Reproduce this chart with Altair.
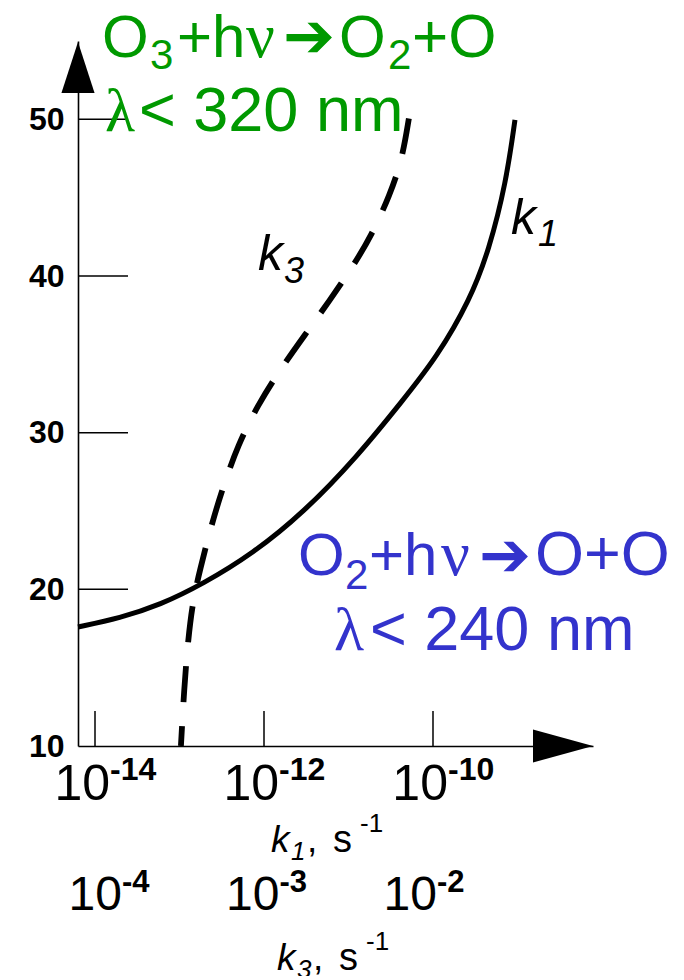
import altair as alt
import pandas as pd

# ---------------- data ----------------
# solid curve k1 : log10(k1 / s^-1) vs altitude (km)
k1_exp = [-14.201, -13.704, -13.231, -12.722, -12.130, -11.538, -10.899,
          -10.355, -9.953, -9.562, -9.337, -9.136, -9.030]
k1_alt = [17.60, 18.17, 19.00, 20.34, 22.29, 24.87, 28.45,
          32.08, 34.83, 38.47, 41.66, 45.94, 49.96]

# dashed curve k3 : log10(k3 / s^-1) vs altitude (km)
k3_exp = [-3.537, -3.517, -3.492, -3.460, -3.416, -3.352, -3.276, -3.175,
          -3.048, -2.908, -2.749, -2.590, -2.451, -2.324, -2.210, -2.133, -2.089]
k3_alt = [10.0, 13.58, 16.77, 19.32, 21.24, 23.79, 26.35, 29.22,
          31.78, 34.01, 36.25, 38.48, 40.52, 42.63, 45.19, 47.42, 50.10]

alt_ticks = [10, 20, 30, 40, 50]
k1_tick_exp = [-14, -12, -10]
k3_tick_exp = [-4, -3, -2]

# ---------------- layout constants ----------------
OX, OY = 78, 41          # page position of plot origin
W, H = 515, 705
FONT = "Liberation Sans"
SERIF = "Liberation Serif"
ARROWF = "DejaVu Sans"
GREEN = "#009900"
BLUE = "#3333cc"

df_k1 = pd.DataFrame({"k1": [10 ** e for e in k1_exp], "alt": k1_alt})
df_k3 = pd.DataFrame({"k3": [10 ** e for e in k3_exp], "alt": k3_alt})
df_k1t = pd.DataFrame({"k": [10 ** e for e in k1_tick_exp],
                       "sup": [str(e) for e in k1_tick_exp]})
df_k3t = pd.DataFrame({"k": [10 ** e for e in k3_tick_exp],
                       "sup": [str(e) for e in k3_tick_exp]})
df_yt = pd.DataFrame({"a": alt_ticks[1:]})
one = pd.DataFrame({"d": [0]})

X1 = alt.Scale(type="log", domain=[10 ** -14.2012, 10 ** -8.1065], nice=False)
X3 = alt.Scale(type="log", domain=[10 ** -4.1905, 10 ** -0.9206], nice=False)
YS = alt.Scale(domain=[10, 55], nice=False, zero=False)

x1_axis = alt.Axis(domain=True, domainColor="black", domainWidth=1.6,
                   labels=False, ticks=False, tickSize=0, grid=False, title=None)
y_axis = alt.Axis(values=alt_ticks, domain=True, domainColor="black", domainWidth=1.6,
                  ticks=False, tickSize=0, grid=False, title=None,
                  labelFont=FONT, labelFontSize=32, labelFontWeight="bold",
                  labelColor="black", labelPadding=14)

Y = alt.Y("alt:Q", scale=YS, axis=y_axis)

# ---------------- k1 layer ----------------
k1_line = alt.Chart(df_k1).mark_line(color="black", strokeWidth=5,
                                     interpolate="basis").encode(
    x=alt.X("k1:Q", scale=X1, axis=x1_axis), y=Y)

x_ticks = alt.Chart(df_k1t).mark_rule(color="black", strokeWidth=1.5).encode(
    x=alt.X("k:Q", scale=X1, axis=x1_axis),
    y=alt.value(H), y2=alt.value(H - 35))

y_ticks = alt.Chart(df_yt).mark_rule(color="black", strokeWidth=1.5).encode(
    y=alt.Y("a:Q", scale=YS, axis=y_axis),
    x=alt.value(0), x2=alt.value(50))

k1_ten = alt.Chart(df_k1t).mark_text(text="10", font=FONT, fontSize=50,
                                     align="right", baseline="alphabetic",
                                     dx=15, color="black").encode(
    x=alt.X("k:Q", scale=X1, axis=x1_axis), y=alt.value(800 - OY))
k1_sup = alt.Chart(df_k1t).mark_text(font=FONT, fontSize=32, fontWeight="bold",
                                     align="left", baseline="alphabetic",
                                     dx=15, color="black").encode(
    x=alt.X("k:Q", scale=X1, axis=x1_axis), y=alt.value(780 - OY), text="sup:N")

up_arrow = alt.Chart(one).mark_point(
    shape="M0,-1 L0.65,1 L-0.65,1 Z", filled=True, color="black",
    opacity=1, size=2601, strokeWidth=0).encode(
    x=alt.value(0), y=alt.value(67.5 - OY))
right_arrow = alt.Chart(one).mark_point(
    shape="M1,0 L-1,0.55 L-1,-0.55 Z", filled=True, color="black",
    opacity=1, size=3600, strokeWidth=0).encode(
    x=alt.value(563 - OX), y=alt.value(H))

# ---------------- k3 layer ----------------
k3_line = alt.Chart(df_k3).mark_line(color="black", strokeWidth=5.8,
                                     strokeDash=[36, 24], strokeDashOffset=16,
                                     strokeCap="butt",
                                     interpolate="basis").encode(
    x=alt.X("k3:Q", scale=X3, axis=None), y=Y)
k3_ten = alt.Chart(df_k3t).mark_text(text="10", font=FONT, fontSize=48,
                                     align="right", baseline="alphabetic",
                                     dx=14, color="black").encode(
    x=alt.X("k:Q", scale=X3, axis=None), y=alt.value(910 - OY))
k3_sup = alt.Chart(df_k3t).mark_text(font=FONT, fontSize=31, fontWeight="bold",
                                     align="left", baseline="alphabetic",
                                     dx=14, color="black").encode(
    x=alt.X("k:Q", scale=X3, axis=None), y=alt.value(892 - OY), text="sup:N")

# ---------------- annotations ----------------
def T(text, px, py, size, color="black", weight="normal", style="normal",
      font=FONT):
    return alt.Chart(one).mark_text(
        text=text, font=font, fontSize=size, fontWeight=weight, fontStyle=style,
        align="left", baseline="alphabetic", color=color).encode(
        x=alt.value(px - OX), y=alt.value(py - OY))

notes = [
    # green: O3 + hv -> O2 + O, lambda < 320 nm
    T("O", 102, 57, 60, GREEN), T("3", 150, 69, 42, GREEN),
    T("+h", 177, 57, 60, GREEN), T("ν", 246, 57, 64, GREEN, font=SERIF),
    T("➔", 283, 57, 62, GREEN, font=ARROWF),
    T("O", 339, 57, 60, GREEN), T("2", 388, 69, 42, GREEN),
    T("+O", 412, 57, 62, GREEN),
    T("λ", 105, 131, 62, GREEN, font=SERIF), T("< 320 nm", 139, 131, 63, GREEN),
    # blue: O2 + hv -> O + O, lambda < 240 nm
    T("O", 298, 575, 60, BLUE), T("2", 345, 589, 42, BLUE),
    T("+h", 369, 575, 60, BLUE), T("ν", 441, 575, 64, BLUE, font=SERIF),
    T("➔", 479, 576, 62, BLUE, font=ARROWF),
    T("O+O", 535, 575, 63, BLUE),
    T("λ", 334, 650, 62, BLUE, font=SERIF), T("< 240 nm", 370, 650, 63, BLUE),
    # curve labels
    T("k", 258, 270, 50, style="italic"), T("3", 284, 283, 36, style="italic"),
    T("k", 511, 234, 50, style="italic"), T("1", 538, 246, 36, style="italic"),
    # axis titles
    T("k", 271, 852, 37, style="italic"), T("1", 291, 860, 26, style="italic"),
    T(",", 307, 852, 37), T("s", 333, 852, 38), T("-1", 360, 832, 26),
    T("k", 277, 970, 37, style="italic"), T("3", 297, 978, 26, style="italic"),
    T(",", 313, 970, 37), T("s", 339, 970, 38), T("-1", 366, 950, 26),
]

k1_layer = alt.layer(k1_line, x_ticks, y_ticks, k1_ten, k1_sup,
                     up_arrow, right_arrow, *notes)
k3_layer = alt.layer(k3_line, k3_ten, k3_sup)

chart = alt.layer(k1_layer, k3_layer).resolve_scale(x="independent").properties(
    width=W, height=H,
    autosize=alt.AutoSizeParams(type="none"),
    padding={"left": 70, "top": 33, "right": 83, "bottom": 230},
    background="white",
).configure_view(stroke=None)

chart.save("out.html", embed_options={"renderer": "svg", "actions": False})
